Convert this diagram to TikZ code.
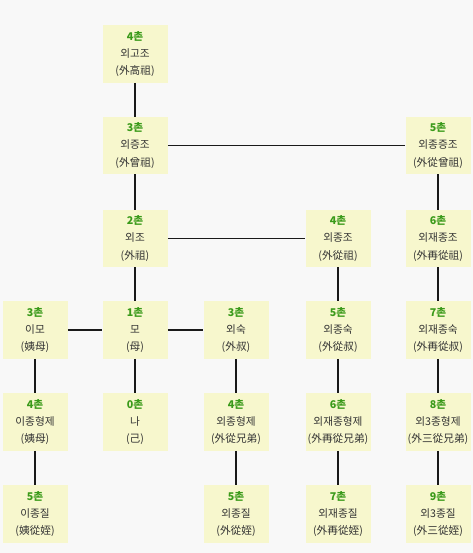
\documentclass[tikz,border=0pt]{standalone}
\usepackage{fontspec}
\setmainfont{Noto Sans CJK KR}
\usetikzlibrary{positioning}
\definecolor{boxfill}{HTML}{F7F7CD}
\definecolor{chon}{HTML}{3A9A1A}
\definecolor{bgcol}{HTML}{F8F8F8}
\newcommand{\kin}[3]{{\color{chon}\bfseries #1}\\#2\\(#3)}

\begin{document}
\begin{tikzpicture}[
	x = 0.75pt, y = -0.75pt,
	kbox/.style={rectangle, fill=boxfill, minimum width = 48.75pt, minimum height = 43pt, align=center, inner sep=1pt, text=black!80, font=\fontsize{8}{13}\selectfont},
	link/.style={line width=0.9pt, black!90},
	]

	\fill[bgcol] (0,0) rectangle (473,553);

	% ancestors
	\node[kbox] (gogo) at (135,54) {\kin{4촌}{외고조}{外高祖}};
	\node[kbox] (jeung) at (135,145.5) {\kin{3촌}{외증조}{外曾祖}};
	\node[kbox] (jongjeung) at (438,145.5) {\kin{5촌}{외종증조}{外從曾祖}};
	\node[kbox] (jo) at (135,238.5) {\kin{2촌}{외조}{外祖}};
	\node[kbox] (jongjo) at (338,238.5) {\kin{4촌}{외종조}{外從祖}};
	\node[kbox] (jaejongjo) at (438,238.5) {\kin{6촌}{외재종조}{外再從祖}};

	% parents' generation
	\node[kbox] (imo) at (35,330) {\kin{3촌}{이모}{姨母}};
	\node[kbox] (mo) at (135,330) {\kin{1촌}{모}{母}};
	\node[kbox] (suk) at (236,330) {\kin{3촌}{외숙}{外叔}};
	\node[kbox] (jongsuk) at (338,330) {\kin{5촌}{외종숙}{外從叔}};
	\node[kbox] (jaejongsuk) at (438,330) {\kin{7촌}{외재종숙}{外再從叔}};

	% own generation
	\node[kbox] (ijong) at (35,422) {\kin{4촌}{이종형제}{姨母}};
	\node[kbox] (na) at (135,422) {\kin{0촌}{나}{己}};
	\node[kbox] (jonghj) at (236,422) {\kin{4촌}{외종형제}{外從兄弟}};
	\node[kbox] (jaejonghj) at (338,422) {\kin{6촌}{외재종형제}{外再從兄弟}};
	\node[kbox] (samjonghj) at (438,422) {\kin{8촌}{외3종형제}{外三從兄弟}};

	% children
	\node[kbox] (ijongjil) at (35,514) {\kin{5촌}{이종질}{姨從姪}};
	\node[kbox] (jongjil) at (236,514) {\kin{5촌}{외종질}{外從姪}};
	\node[kbox] (jaejongjil) at (338,514) {\kin{7촌}{외재종질}{外再從姪}};
	\node[kbox] (samjongjil) at (438,514) {\kin{9촌}{외3종질}{外三從姪}};

	\draw[link] (gogo) -- (jeung);
	\draw[link] (jeung) -- (jongjeung);
	\draw[link] (jeung) -- (jo);
	\draw[link] (jongjeung) -- (jaejongjo);
	\draw[link] (jo) -- (jongjo);
	\draw[link] (jo) -- (mo);
	\draw[link] (jongjo) -- (jongsuk);
	\draw[link] (jaejongjo) -- (jaejongsuk);

	\draw[link] (imo) -- (mo);
	\draw[link] (mo) -- (suk);

	\draw[link] (imo) -- (ijong);
	\draw[link] (mo) -- (na);
	\draw[link] (suk) -- (jonghj);
	\draw[link] (jongsuk) -- (jaejonghj);
	\draw[link] (jaejongsuk) -- (samjonghj);

	\draw[link] (ijong) -- (ijongjil);
	\draw[link] (jonghj) -- (jongjil);
	\draw[link] (jaejonghj) -- (jaejongjil);
	\draw[link] (samjonghj) -- (samjongjil);

\end{tikzpicture}
\end{document}
